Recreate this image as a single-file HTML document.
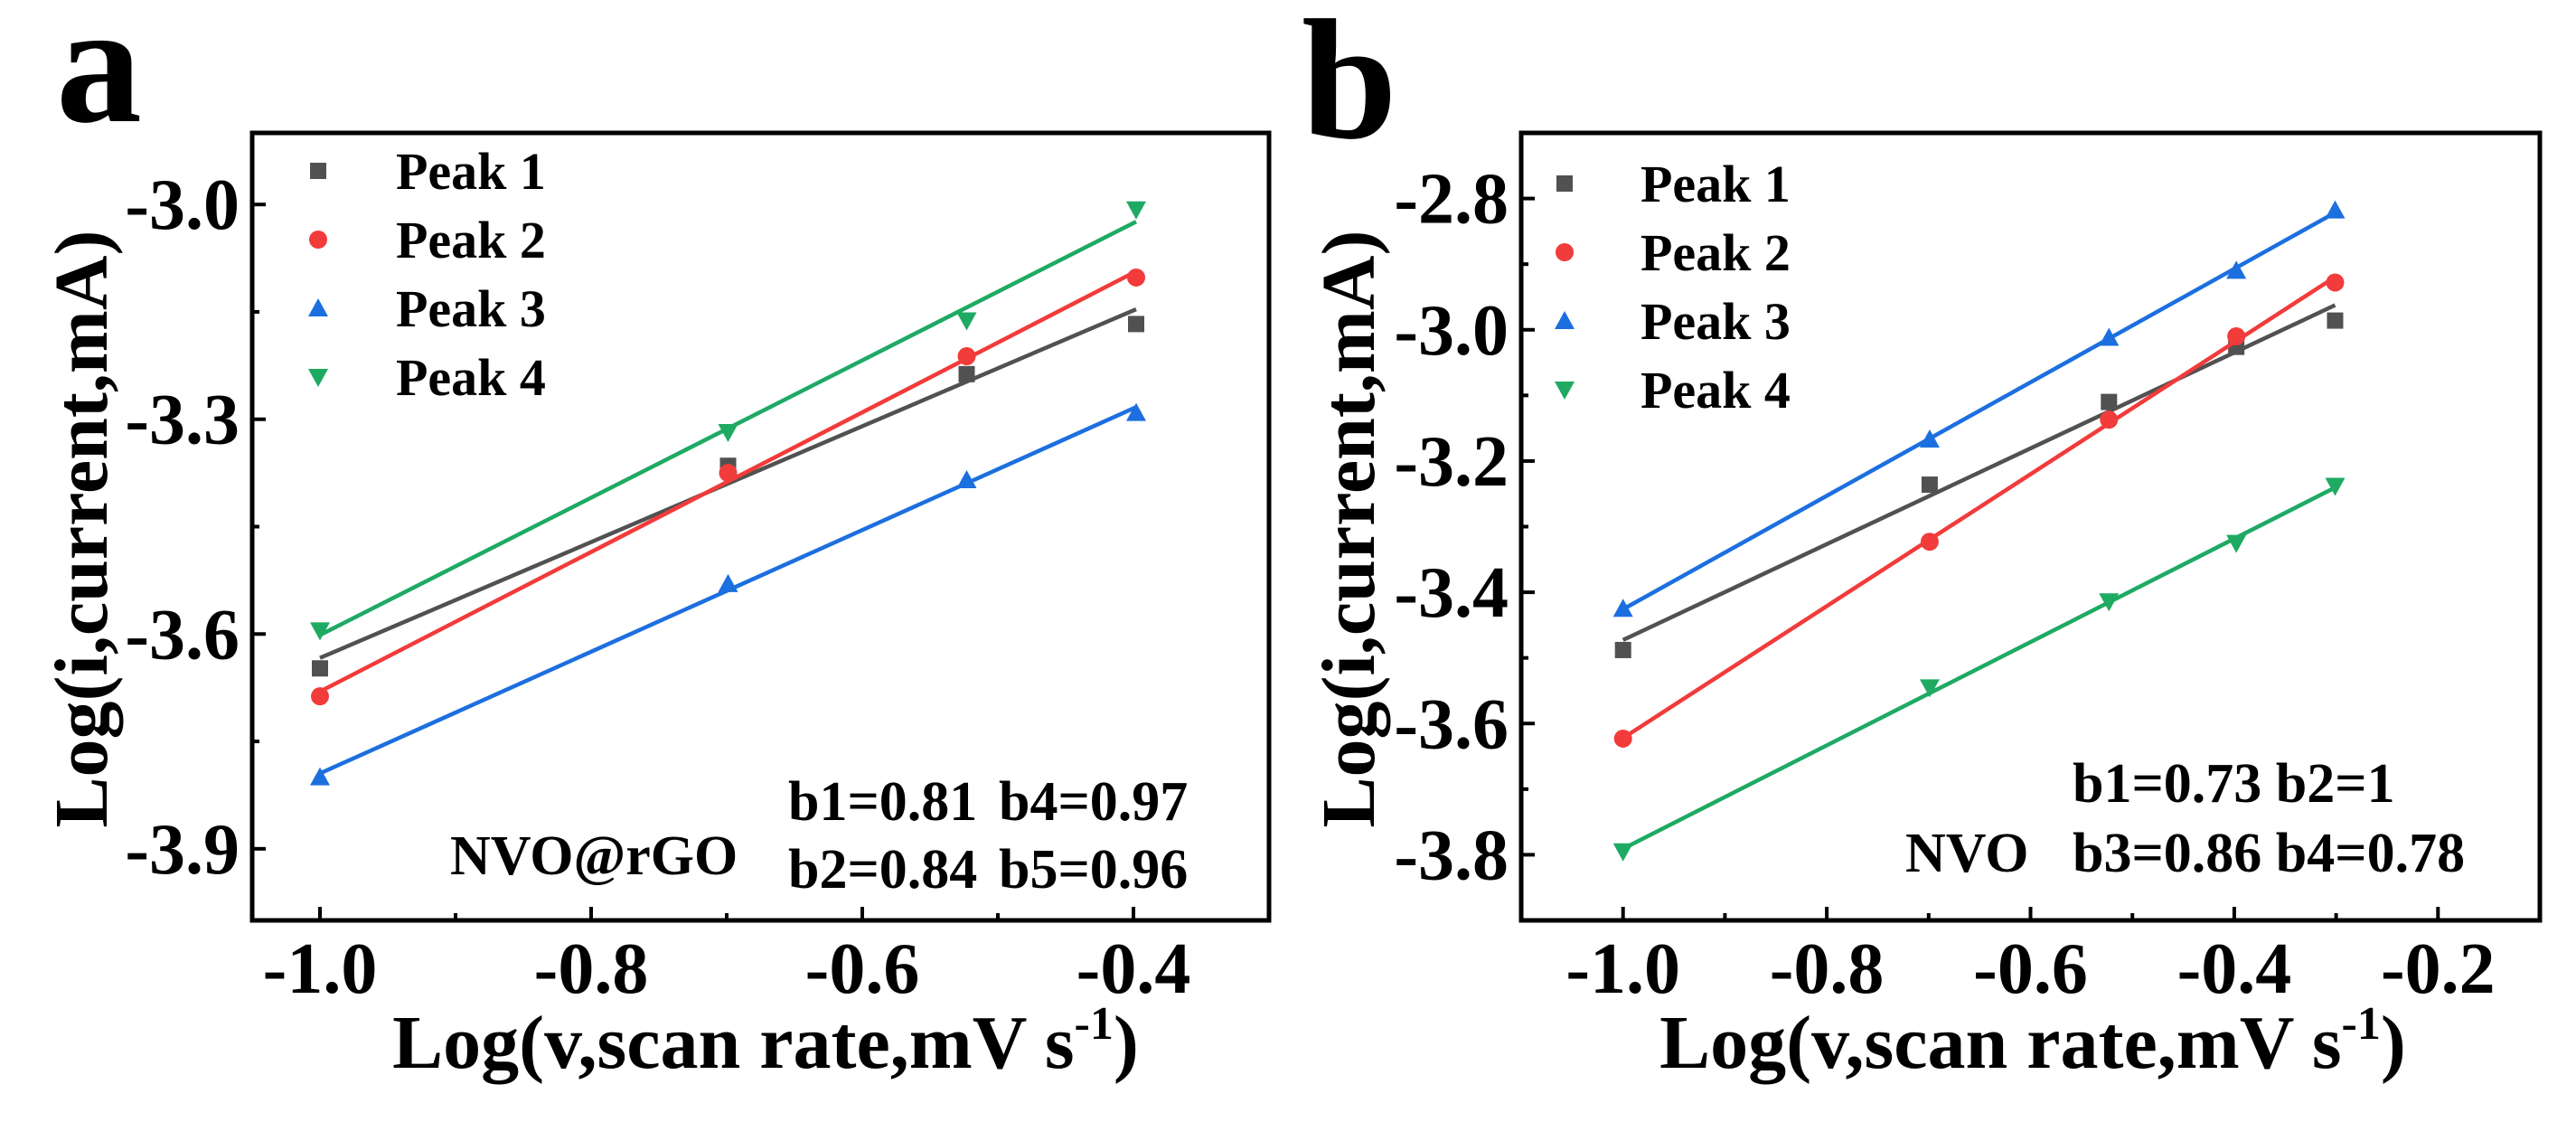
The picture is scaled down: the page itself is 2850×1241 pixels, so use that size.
<!DOCTYPE html>
<html><head><meta charset="utf-8"><style>
html,body{margin:0;padding:0;background:#fff;}
svg{display:block;}
svg text{font-family:"Liberation Serif","Times New Roman","DejaVu Serif",serif;font-weight:bold;}
</style></head><body>
<svg id="fig" width="2850" height="1241" viewBox="0 0 2850 1241" xmlns="http://www.w3.org/2000/svg" font-family="Liberation Serif, DejaVu Serif, serif" font-weight="bold"></svg>
<script>
// ---- Panel a data ----
const xA = [-1, -0.699, -0.523, -0.398];
const aPeak1 = [-3.648, -3.365, -3.237, -3.167];
const aPeak2 = [-3.687, -3.375, -3.212, -3.102];
const aPeak3 = [-3.800, -3.530, -3.385, -3.291];
const aPeak4 = [-3.595, -3.318, -3.162, -3.007];
const aXTicks = [-1.0, -0.8, -0.6, -0.4];
const aYTicks = [-3.0, -3.3, -3.6, -3.9];
// ---- Panel b data ----
const xB = [-1, -0.699, -0.523, -0.398, -0.301];
const bPeak1 = [-3.488, -3.236, -3.110, -3.026, -2.986];
const bPeak2 = [-3.623, -3.323, -3.137, -3.010, -2.928];
const bPeak3 = [-3.425, -3.167, -3.012, -2.910, -2.818];
const bPeak4 = [-3.795, -3.545, -3.414, -3.325, -3.238];
const bXTicks = [-1.0, -0.8, -0.6, -0.4, -0.2];
const bYTicks = [-2.8, -3.0, -3.2, -3.4, -3.6, -3.8];
const seriesNames = ["Peak 1", "Peak 2", "Peak 3", "Peak 4"];

const NS = "http://www.w3.org/2000/svg";
const svg = document.getElementById("fig");
const COLORS = ["#515151", "#F23B3B", "#1C6FDF", "#1EAA63"];
const SHAPES = ["square", "circle", "up", "down"];
const FONT = "Liberation Serif, DejaVu Serif, serif";

function mk(tag, attrs, parent) {
  const e = document.createElementNS(NS, tag);
  for (const k in attrs) e.setAttribute(k, attrs[k]);
  (parent || svg).appendChild(e);
  return e;
}
function txt(s, attrs, parent) {
  attrs["font-family"] = FONT; attrs["font-weight"] = "bold";
  const t = mk("text", attrs, parent); t.textContent = s; return t;
}

function marker(g, shape, cx, cy, color) {
  let e;
  if (shape === "square") e = mk("rect", {x: cx - 9, y: cy - 9, width: 18, height: 18, fill: color}, g);
  else if (shape === "circle") e = mk("circle", {cx: cx, cy: cy, r: 10, fill: color}, g);
  else if (shape === "up") e = mk("polygon", {points: `${cx},${cy - 11} ${cx + 11},${cy + 9} ${cx - 11},${cy + 9}`, fill: color}, g);
  else e = mk("polygon", {points: `${cx},${cy + 11} ${cx + 11},${cy - 9} ${cx - 11},${cy - 9}`, fill: color}, g);
  return e;
}

function fit(xs, ys) {
  const n = xs.length; let sx = 0, sy = 0, sxx = 0, sxy = 0;
  for (let i = 0; i < n; i++) { sx += xs[i]; sy += ys[i]; sxx += xs[i] * xs[i]; sxy += xs[i] * ys[i]; }
  const m = (n * sxy - sx * sy) / (n * sxx - sx * sx);
  return {m: m, b: (sy - m * sx) / n};
}

function panel(cfg) {
  const g = mk("g", {});
  
  
  const X = v => cfg.L + (v - cfg.x0) / (cfg.x1 - cfg.x0) * (cfg.R - cfg.L);
  const Y = v => cfg.B - (v - cfg.y0) / (cfg.y1 - cfg.y0) * (cfg.B - cfg.T);
  const tg = mk("g", {stroke: "#000", "stroke-width": 4}, g);
  
  
  cfg.xt.forEach((v, i) => {
    mk("line", {x1: X(v), x2: X(v), y1: cfg.B, y2: cfg.B - 15}, tg);
    if (i < cfg.xt.length - 1) { const m = (v + cfg.xt[i + 1]) / 2; mk("line", {x1: X(m), x2: X(m), y1: cfg.B, y2: cfg.B - 8}, tg); }
    const t = txt(v.toFixed(1), {x: X(v), y: 1098, "font-size": 80, "text-anchor": "middle"}, g);
    
    
  });
  cfg.yt.forEach((v, i) => {
    mk("line", {x1: cfg.L, x2: cfg.L + 15, y1: Y(v), y2: Y(v)}, tg);
    if (i < cfg.yt.length - 1) { const m = (v + cfg.yt[i + 1]) / 2; mk("line", {x1: cfg.L, x2: cfg.L + 8, y1: Y(m), y2: Y(m)}, tg); }
    const t = txt(v.toFixed(1), {x: cfg.L - 14, y: Y(v) + 27, "font-size": 80, "text-anchor": "end"}, g);
    
    
  });
  cfg.series.forEach((ys, si) => {
    const sg = mk("g", {}, g);
    
    
    const f = fit(cfg.xs, ys);
    const xa = cfg.xs[0], xb = cfg.xs[cfg.xs.length - 1];
    const ln = mk("line", {x1: X(xa), y1: Y(f.m * xa + f.b), x2: X(xb), y2: Y(f.m * xb + f.b), stroke: COLORS[si], "stroke-width": 4.5}, sg);
    
    
    cfg.xs.forEach((xv, i) => {
      const p = marker(sg, SHAPES[si], X(xv), Y(ys[i]), COLORS[si]);
      
      
    });
  });
  const fr = mk("rect", {x: cfg.L, y: cfg.T, width: cfg.R - cfg.L, height: cfg.B - cfg.T, fill: "none", stroke: "#000", "stroke-width": 5}, g);
  
  
  const lg = mk("g", {}, g);
  
  
  seriesNames.forEach((n, i) => {
    const y = cfg.legY + i * 76;
    marker(lg, SHAPES[i], cfg.legMX, y, COLORS[i]);
    const t = txt(n, {x: cfg.legTX, y: y + 20, "font-size": 58}, lg);
    
    
  });
  const xt = txt("", {x: cfg.xTitleX, y: 1181, "font-size": 84, "text-anchor": "middle"}, g);
  xt.innerHTML = 'Log(v,scan rate,mV s<tspan dy="-32" font-size="52">-1</tspan><tspan dy="32">)</tspan>';
  
  
  const yt = txt("Log(i,current,mA)", {x: 0, y: 0, "font-size": 84, "text-anchor": "middle", transform: `translate(${cfg.yTitleX},585) rotate(-90)`}, g);
  
  
  const pl = txt(cfg.letter, {x: cfg.letX, y: cfg.letY, "font-size": 190}, g);
  
  
  cfg.notes.forEach(nt => {
    const t = txt(nt[0], {x: nt[1], y: nt[2], "font-size": 62}, g);
    
    
  });
}

panel({name: "panel-a", L: 279, R: 1404, T: 147, B: 1018, x0: -1.05, x1: -0.3, y0: -4.0, y1: -2.9,
  xt: aXTicks, yt: aYTicks, xs: xA, series: [aPeak1, aPeak2, aPeak3, aPeak4],
  legY: 189, legMX: 352, legTX: 438, xTitleX: 847, yTitleX: 118, letter: "a", letX: 62, letY: 134,
  notes: [["b1=0.81", 872, 907], ["b4=0.97", 1105, 907], ["b2=0.84", 872, 982], ["b5=0.96", 1105, 982], ["NVO@rGO", 498, 967]]});

panel({name: "panel-b", L: 1683, R: 2810, T: 147, B: 1018, x0: -1.1, x1: -0.1, y0: -3.9, y1: -2.7,
  xt: bXTicks, yt: bYTicks, xs: xB, series: [bPeak1, bPeak2, bPeak3, bPeak4],
  legY: 203, legMX: 1731, legTX: 1815, xTitleX: 2249, yTitleX: 1520, letter: "b", letX: 1440, letY: 152,
  notes: [["b1=0.73 b2=1", 2293, 887], ["b3=0.86 b4=0.78", 2293, 964], ["NVO", 2108, 964]]});
</script>
</body></html>
